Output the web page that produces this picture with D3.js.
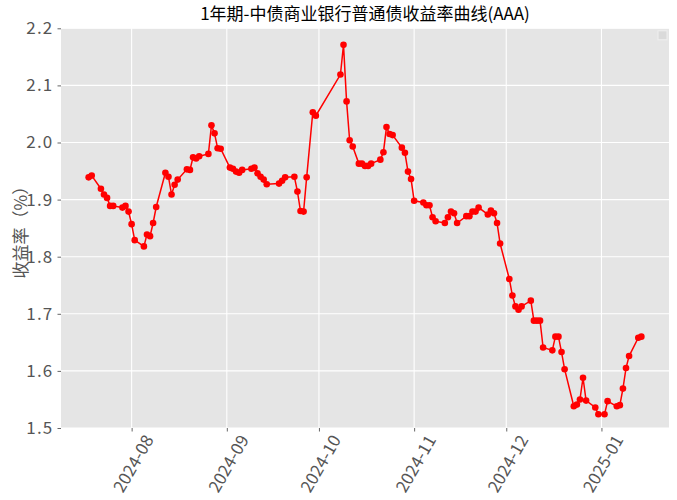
<!DOCTYPE html>
<html>
<head>
<meta charset="utf-8">
<script src="https://cdn.jsdelivr.net/npm/d3@7"></script>
<style>
  body { margin: 0; background: #fff; }
  svg { display: block; }
</style>
</head>
<body>
<svg id="chart"></svg>
<script>
// trading days and 1Y AAA bank bond yields (%)
const dates = [
  "2024-07-18", "2024-07-19", "2024-07-22", "2024-07-23", "2024-07-24", "2024-07-25", "2024-07-26",
  "2024-07-29", "2024-07-30", "2024-07-31", "2024-08-01", "2024-08-02",
  "2024-08-05", "2024-08-06", "2024-08-07", "2024-08-08", "2024-08-09",
  "2024-08-12", "2024-08-13", "2024-08-14", "2024-08-15", "2024-08-16",
  "2024-08-19", "2024-08-20", "2024-08-21", "2024-08-22", "2024-08-23",
  "2024-08-26", "2024-08-27", "2024-08-28", "2024-08-29", "2024-08-30",
  "2024-09-02", "2024-09-03", "2024-09-04", "2024-09-05", "2024-09-06",
  "2024-09-09", "2024-09-10", "2024-09-11", "2024-09-12", "2024-09-13", "2024-09-14",
  "2024-09-18", "2024-09-19", "2024-09-20",
  "2024-09-23", "2024-09-24", "2024-09-25", "2024-09-26", "2024-09-27", "2024-09-29", "2024-09-30",
  "2024-10-08", "2024-10-09", "2024-10-10", "2024-10-11", "2024-10-12",
  "2024-10-14", "2024-10-15", "2024-10-16", "2024-10-17", "2024-10-18",
  "2024-10-21", "2024-10-22", "2024-10-23", "2024-10-24", "2024-10-25",
  "2024-10-28", "2024-10-29", "2024-10-30", "2024-10-31", "2024-11-01",
  "2024-11-04", "2024-11-05", "2024-11-06", "2024-11-07", "2024-11-08",
  "2024-11-11", "2024-11-12", "2024-11-13", "2024-11-14", "2024-11-15",
  "2024-11-18", "2024-11-19", "2024-11-20", "2024-11-21", "2024-11-22",
  "2024-11-25", "2024-11-26", "2024-11-27", "2024-11-28", "2024-11-29",
  "2024-12-02", "2024-12-03", "2024-12-04", "2024-12-05", "2024-12-06",
  "2024-12-09", "2024-12-10", "2024-12-11", "2024-12-12", "2024-12-13",
  "2024-12-16", "2024-12-17", "2024-12-18", "2024-12-19", "2024-12-20",
  "2024-12-23", "2024-12-24", "2024-12-25", "2024-12-26", "2024-12-27",
  "2024-12-30", "2024-12-31", "2025-01-02", "2025-01-03",
  "2025-01-06", "2025-01-07", "2025-01-08", "2025-01-09", "2025-01-10",
  "2025-01-13", "2025-01-14"
];
const yields = [
  1.939, 1.942, 1.919, 1.909, 1.903, 1.889, 1.889,
  1.886, 1.889, 1.879, 1.857, 1.829,
  1.818, 1.839, 1.836, 1.859, 1.887,
  1.947, 1.940, 1.909, 1.926, 1.935,
  1.953, 1.952, 1.974, 1.972, 1.976,
  1.980, 2.030, 2.016, 1.990, 1.989,
  1.956, 1.954, 1.949, 1.947, 1.952,
  1.954, 1.956, 1.946, 1.940, 1.935, 1.927,
  1.928, 1.933, 1.939,
  1.940, 1.914, 1.880, 1.879, 1.939, 2.053, 2.047,
  2.119, 2.171, 2.072, 2.004, 1.993,
  1.963, 1.963, 1.959, 1.959, 1.963,
  1.970, 1.983, 2.027, 2.015, 2.013,
  1.991, 1.982, 1.949, 1.936, 1.898,
  1.895, 1.890, 1.890, 1.869, 1.862,
  1.859, 1.869, 1.879, 1.876, 1.859,
  1.871, 1.871, 1.879, 1.879, 1.886,
  1.874, 1.881, 1.876, 1.859, 1.823,
  1.761, 1.732, 1.713, 1.707, 1.713,
  1.723, 1.688, 1.688, 1.688, 1.641,
  1.636, 1.660, 1.660, 1.633, 1.603,
  1.538, 1.541, 1.550, 1.588, 1.548,
  1.536, 1.524, 1.524, 1.547,
  1.538, 1.540, 1.569, 1.605, 1.626,
  1.658, 1.660
];
const yTicks = [1.5, 1.6, 1.7, 1.8, 1.9, 2.0, 2.1, 2.2];
const xTicks = ["2024-08-01", "2024-09-01", "2024-10-01", "2024-11-01", "2024-12-01", "2025-01-01"];
const titleText = "1年期-中债商业银行普通债收益率曲线(AAA)";
const yLabelText = "收益率（%）";

const W = 677, H = 500;
const margin = { top: 28.3, right: 8, bottom: 72, left: 61 };
const width = W - margin.left - margin.right;
const height = H - margin.top - margin.bottom;
const font = "'Noto Sans CJK SC', 'Noto Sans CJK JP', 'DejaVu Sans', sans-serif";

const parse = d3.timeParse("%Y-%m-%d");
const data = dates.map((d, i) => ({ date: parse(d), value: yields[i] }));

const svg = d3.select("#chart").attr("width", W).attr("height", H)
  .style("background", "#fff").style("font-family", font);

// matplotlib-style 5% padding on the date axis
const [d0, d1] = d3.extent(data, d => d.date);
const pad = (d1 - d0) * 0.05;
const x = d3.scaleTime().domain([new Date(+d0 - pad), new Date(+d1 + pad)]).range([0, width]);
const y = d3.scaleLinear().domain([1.5, 2.2]).range([height, 0]);

const g = svg.append("g").attr("transform", `translate(${margin.left},${margin.top})`);

// panel
g.append("rect").attr("width", width).attr("height", height).attr("fill", "#E5E5E5");

// grid
g.append("g").selectAll("line").data(yTicks).join("line")
  .attr("x1", 0).attr("x2", width)
  .attr("y1", d => y(d)).attr("y2", d => y(d))
  .attr("stroke", "#fff").attr("stroke-width", 1.1);
g.append("g").selectAll("line").data(xTicks.map(parse)).join("line")
  .attr("x1", d => x(d)).attr("x2", d => x(d))
  .attr("y1", 0).attr("y2", height)
  .attr("stroke", "#fff").attr("stroke-width", 1.1);

// empty legend box in the corner
g.append("rect").attr("x", width - 11).attr("y", 2.5).attr("width", 9).attr("height", 9)
  .attr("fill", "#dadada").attr("stroke", "#efefef").attr("stroke-width", 1);

// axes
const yAxis = g.append("g")
  .call(d3.axisLeft(y).tickValues(yTicks).tickFormat(d3.format(".1f")).tickSize(3.5).tickPadding(4));
const xAxis = g.append("g").attr("transform", `translate(0,${height})`)
  .call(d3.axisBottom(x).tickValues(xTicks.map(parse)).tickFormat(d3.timeFormat("%Y-%m")).tickSize(3.5).tickPadding(4));

[yAxis, xAxis].forEach(a => {
  a.select(".domain").remove();
  a.selectAll(".tick line").attr("stroke", "#555").attr("stroke-width", 0.9);
  a.selectAll(".tick text").attr("fill", "#555").style("font-size", "17px").style("font-family", font);
});

yAxis.selectAll(".tick text").style("letter-spacing", "1.2px");

xAxis.selectAll(".tick text")
  .attr("y", 0).attr("dy", null)
  .attr("text-anchor", "middle")
  .attr("dominant-baseline", "central")
  .attr("transform", "translate(0,35) rotate(-60)");

// series
g.append("path").datum(data)
  .attr("fill", "none").attr("stroke", "#FF0000").attr("stroke-width", 1.5)
  .attr("d", d3.line().x(d => x(d.date)).y(d => y(d.value)));

g.append("g").selectAll("circle").data(data).join("circle")
  .attr("cx", d => x(d.date)).attr("cy", d => y(d.value))
  .attr("r", 3.3).attr("fill", "#FF0000");

// title
svg.append("text")
  .attr("x", margin.left + width / 2).attr("y", 20)
  .attr("text-anchor", "middle")
  .attr("fill", "#000").style("font-size", "17px")
  .text(titleText);

// y label
svg.append("text")
  .attr("transform", `translate(19,${margin.top + height / 2}) rotate(-90)`)
  .attr("text-anchor", "middle").attr("dominant-baseline", "central")
  .attr("fill", "#555").style("font-size", "17px")
  .text(yLabelText);
</script>
</body>
</html>
